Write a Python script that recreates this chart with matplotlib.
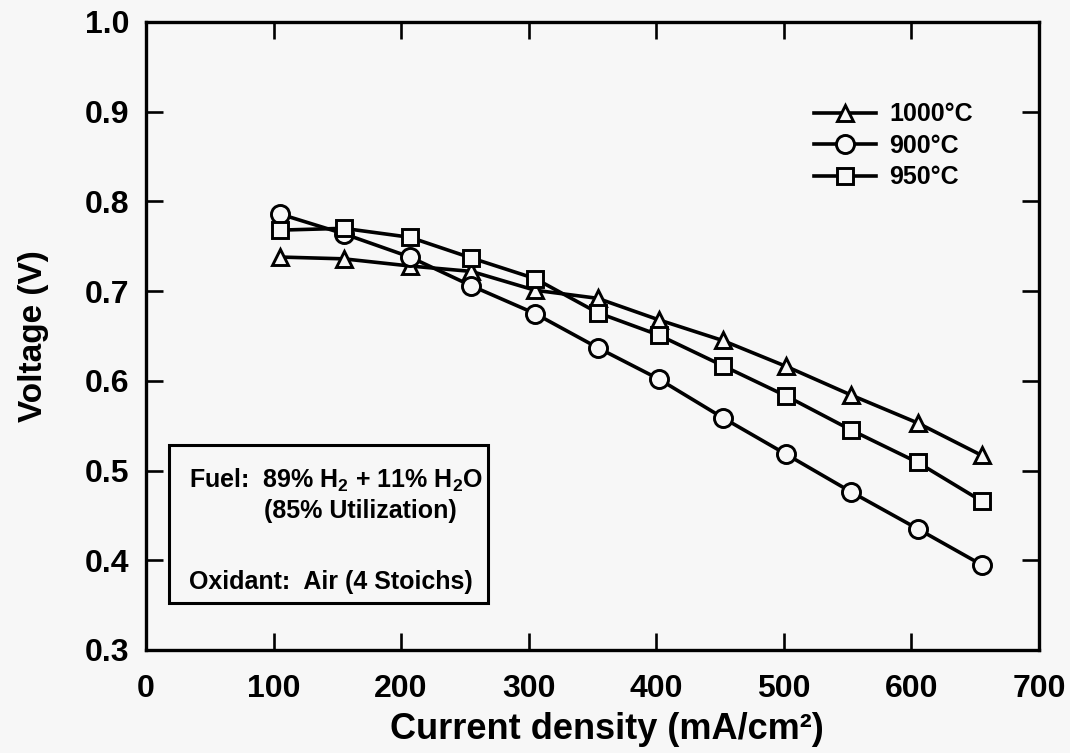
import matplotlib
matplotlib.use('Agg')
import matplotlib.pyplot as plt
from matplotlib.patches import Rectangle

######################################################
# values

current = [105, 155, 207, 255, 305, 354, 402, 452, 502, 553, 605, 655]

v_1000 = [0.738, 0.736, 0.728, 0.722, 0.701, 0.692, 0.668, 0.645, 0.616, 0.584, 0.553, 0.517]
v_900  = [0.786, 0.764, 0.738, 0.706, 0.675, 0.637, 0.602, 0.559, 0.518, 0.476, 0.435, 0.395]
v_950  = [0.768, 0.770, 0.760, 0.737, 0.714, 0.676, 0.651, 0.617, 0.583, 0.545, 0.509, 0.466]

labels = ['1000\u00b0C', '900\u00b0C', '950\u00b0C']
markers = ['^', 'o', 's']

xticks = [0, 100, 200, 300, 400, 500, 600, 700]
yticks = [0.3, 0.4, 0.5, 0.6, 0.7, 0.8, 0.9, 1.0]

######################################################

bg = '#f7f7f7'
plt.rcParams['font.family'] = ['Liberation Sans', 'DejaVu Sans']
plt.rcParams['font.weight'] = 'bold'
plt.rcParams['mathtext.default'] = 'regular'

fig = plt.figure(figsize=(10.7, 7.53), dpi=100, facecolor=bg)
ax = fig.add_axes([0.1364, 0.1368, 0.8346, 0.834])
ax.set_facecolor(bg)

series = [v_1000, v_900, v_950]
sizes = [12, 13, 12]
for v, m, lab, ms in zip(series, markers, labels, sizes):
    ax.plot(current, v, color='black', lw=2.6, marker=m, ms=ms,
            mfc=bg, mec='black', mew=2.1, label=lab)

ax.set_xlim(0, 700)
ax.set_ylim(0.3, 1.0)
ax.set_xticks(xticks)
ax.set_yticks(yticks)
ax.set_yticklabels(['%.1f' % t for t in yticks])

for sp in ax.spines.values():
    sp.set_linewidth(2.4)
ax.tick_params(direction='in', length=12, width=1.9, top=True, right=True,
               labelsize=23)
ax.tick_params(axis='x', pad=17)
ax.tick_params(axis='y', pad=12)

ax.set_xlabel('Current density (mA/cm\u00b2)', fontsize=26, fontweight='bold')
ax.xaxis.set_label_coords(0.516, -0.098)
ax.set_ylabel('Voltage (V)', fontsize=24, fontweight='bold', labelpad=26)

leg = ax.legend(loc='upper left', bbox_to_anchor=(0.748, 0.872), frameon=False,
                fontsize=18, handlelength=2.5, handletextpad=0.5,
                labelspacing=0.3, borderaxespad=0, borderpad=0)

# conditions box
ax.add_patch(Rectangle((0.0257, 0.0748), 0.357, 0.2512, transform=ax.transAxes,
                       fill=False, lw=2.2, ec='black', zorder=3))
ax.text(0.048, 0.27, r'Fuel:  89% H$_2$ + 11% H$_2$O', transform=ax.transAxes,
        fontsize=18, fontweight='bold', va='center')
ax.text(0.132, 0.222, '(85% Utilization)', transform=ax.transAxes,
        fontsize=18, fontweight='bold', va='center')
ax.text(0.048, 0.108, 'Oxidant:  Air (4 Stoichs)', transform=ax.transAxes,
        fontsize=18, fontweight='bold', va='center')

fig.savefig('out.png', dpi=100, facecolor=bg)
